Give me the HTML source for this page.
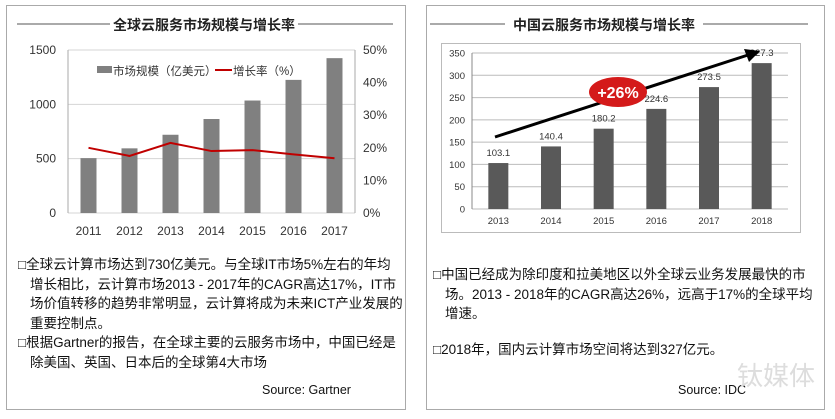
<!DOCTYPE html>
<html><head><meta charset="utf-8"><style>
body{margin:0;background:#fff;width:835px;height:419px;overflow:hidden;font-family:"Liberation Sans","Noto Sans CJK SC",sans-serif;}
.txt{position:absolute;font-size:13.5px;line-height:19.5px;color:#111;}
</style></head><body>
<svg width="835" height="419" style="position:absolute;left:0;top:0" font-family="Liberation Sans, Noto Sans CJK SC, sans-serif">
<g>
<rect x="6.5" y="5.5" width="399" height="404" fill="none" stroke="#aaa"/>
<line x1="17" y1="24" x2="110" y2="24" stroke="#555"/>
<line x1="298" y1="24" x2="393" y2="24" stroke="#555"/>
<text x="204" y="30" text-anchor="middle" font-size="14" font-weight="bold" fill="#222">全球云服务市场规模与增长率</text>
<g id="lc"></g>
</g>
<g>
<rect x="426.5" y="5.5" width="398" height="404" fill="none" stroke="#aaa"/>
<line x1="430" y1="24" x2="505" y2="24" stroke="#555"/>
<line x1="703" y1="24" x2="808" y2="24" stroke="#555"/>
<text x="604" y="30" text-anchor="middle" font-size="14" font-weight="bold" fill="#222">中国云服务市场规模与增长率</text>
<rect x="441.5" y="43.5" width="359" height="189" fill="#fff" stroke="#bbb"/>
<g id="rc"></g>
</g>
</svg>
<div class="txt" style="left:18px;top:255px;width:385px">
<div style="text-indent:-12px;padding-left:12px">□全球云计算市场达到730亿美元。与全球IT市场5%左右的年均增长相比，云计算市场2013 - 2017年的CAGR高达17%，IT市场价值转移的趋势非常明显，云计算将成为未来ICT产业发展的重要控制点。</div>
<div style="text-indent:-12px;padding-left:12px">□根据Gartner的报告，在全球主要的云服务市场中，中国已经是除美国、英国、日本后的全球第4大市场</div>
</div>
<div class="txt" style="left:262px;top:381px;font-size:12.5px">Source: Gartner</div>
<div class="txt" style="left:433px;top:265px;width:380px">
<div style="text-indent:-12px;padding-left:12px">□中国已经成为除印度和拉美地区以外全球云业务发展最快的市场。2013 - 2018年的CAGR高达26%，远高于17%的全球平均增速。</div>
<div style="text-indent:-12px;padding-left:12px;margin-top:16px">□2018年，国内云计算市场空间将达到327亿元。</div>
</div>
<div class="txt" style="left:678px;top:381px;font-size:12.5px">Source: IDC</div>
<div style="position:absolute;left:737px;top:356px;font-size:26px;color:#ddd;font-family:'Noto Sans CJK SC',sans-serif">钛媒体</div>
<script>
const NS="http://www.w3.org/2000/svg";
function mk(p,t,a,txt){const e=document.createElementNS(NS,t);for(const k in a)e.setAttribute(k,a[k]);if(txt!==undefined)e.textContent=txt;p.appendChild(e);return e;}
// Left chart data
const lYears=["2011","2012","2013","2014","2015","2016","2017"];
const lMarket=[505,595,720,865,1035,1225,1425];
const lGrowth=[20,17.5,21.5,19,19.3,18,16.8];
const lTicks=[0,500,1000,1500];
const lPctTicks=[0,10,20,30,40,50];
// Right chart data
const rYears=["2013","2014","2015","2016","2017","2018"];
const rMarket=[103.1,140.4,180.2,224.6,273.5,327.3];
const rLabels=["103.1","140.4","180.2","224.6","273.5","327.3"];
const rTicks=[0,50,100,150,200,250,300,350];

(function(){
const g=document.getElementById('lc');
const x0=68,x1=355,yT=50,yB=213,bw=(x1-x0)/lYears.length;
const y=v=>yB-(v/1500)*(yB-yT), yp=v=>yB-(v/50)*(yB-yT), xc=i=>x0+bw*(i+0.5);
lTicks.forEach(t=>{const l=mk(g,'line',{x1:x0,x2:x1,y1:y(t),y2:y(t),stroke:'#d4d4d4'});

const tx=mk(g,'text',{x:x0-12,y:y(t)+4,'text-anchor':'end','font-size':12,fill:'#333'},String(t));
});
lPctTicks.forEach(t=>{const tx=mk(g,'text',{x:x1+8,y:yp(t)+4,'font-size':12,fill:'#333'},t+'%');
});
mk(g,'line',{x1:x0,x2:x0,y1:yT,y2:yB,stroke:'#aaa'});
mk(g,'line',{x1:x1,x2:x1,y1:yT,y2:yB,stroke:'#aaa'});
lMarket.forEach((v,i)=>{const r=mk(g,'rect',{x:xc(i)-8,y:y(v),width:16,height:yB-y(v),fill:'#808080'});

const tx=mk(g,'text',{x:xc(i),y:yB+22,'text-anchor':'middle','font-size':12,fill:'#333'},lYears[i]);
});
const pl=mk(g,'polyline',{points:lGrowth.map((v,i)=>xc(i)+','+yp(v)).join(' '),fill:'none',stroke:'#c00000','stroke-width':2});

const lg=mk(g,'g',{});
mk(lg,'rect',{x:97,y:66,width:15,height:7,fill:'#808080'});
mk(lg,'text',{x:113,y:75,'font-size':11.5,fill:'#333'},'市场规模（亿美元）');
mk(lg,'line',{x1:215,x2:232,y1:70,y2:70,stroke:'#c00000','stroke-width':2});
mk(lg,'text',{x:233,y:75,'font-size':11.5,fill:'#333'},'增长率（%）');
})();

(function(){
const g=document.getElementById('rc');
const x0=472,x1=788,yT=53,yB=209,bw=(x1-x0)/rYears.length;
const y=v=>yB-(v/350)*(yB-yT), xc=i=>x0+bw*(i+0.5);
rTicks.forEach(t=>{const l=mk(g,'line',{x1:x0,x2:x1,y1:y(t),y2:y(t),stroke:'#bbb'});

const tx=mk(g,'text',{x:x0-7,y:y(t)+3.5,'text-anchor':'end','font-size':9.5,fill:'#333'},String(t));
});
mk(g,'line',{x1:x0,x2:x0,y1:yT,y2:yB,stroke:'#888'});
rMarket.forEach((v,i)=>{const r=mk(g,'rect',{x:xc(i)-10,y:y(v),width:20,height:yB-y(v),fill:'#595959'});

const lb=mk(g,'text',{x:xc(i),y:y(v)-7,'text-anchor':'middle','font-size':9.5,fill:'#333'},rLabels[i]);

const tx=mk(g,'text',{x:xc(i),y:yB+15,'text-anchor':'middle','font-size':9.5,fill:'#333'},rYears[i]);
});
const ar=mk(g,'line',{x1:495,y1:137,x2:748,y2:55,stroke:'#000','stroke-width':3});

mk(g,'polygon',{points:'760,51 744,49 749,62',fill:'#000'});
const el=mk(g,'ellipse',{cx:618,cy:92,rx:29,ry:15,fill:'#d41a1a'});

mk(g,'text',{x:618,y:98,'text-anchor':'middle','font-size':16,'font-weight':'bold',fill:'#fff'},'+26%');
})();
</script>
</body></html>
